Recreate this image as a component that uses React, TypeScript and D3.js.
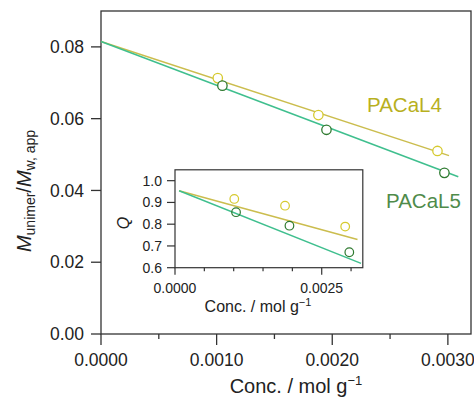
import React from "react";
import * as d3 from "d3";

// ---------- data ----------
const mainXTicks = [0, 0.001, 0.002, 0.003];
const mainXMinor = [0.0005, 0.0015, 0.0025];
const mainYTicks = [0, 0.02, 0.04, 0.06, 0.08];

const pacal4Points: [number, number][] = [
  [0.00101, 0.0713],
  [0.00188, 0.0610],
  [0.00291, 0.0510],
];
const pacal5Points: [number, number][] = [
  [0.00105, 0.0692],
  [0.00195, 0.0569],
  [0.00297, 0.0449],
];
const pacal4Line: [number, number][] = [
  [0, 0.0815],
  [0.00301, 0.0497],
];
const pacal5Line: [number, number][] = [
  [0, 0.0815],
  [0.00309, 0.0438],
];

const insetXTicks = [0, 0.0025];
const insetXMinor = [0.0005, 0.001, 0.0015, 0.002, 0.003];
const insetYTicks = [0.6, 0.7, 0.8, 0.9, 1.0];

const insetQ4Points: [number, number][] = [
  [0.00101, 0.916],
  [0.001875, 0.885],
  [0.0029, 0.789],
];
const insetQ5Points: [number, number][] = [
  [0.00104, 0.855],
  [0.00195, 0.793],
  [0.00297, 0.671],
];
const insetQ4Line: [number, number][] = [
  [0.00007, 0.954],
  [0.00311, 0.73],
];
const insetQ5Line: [number, number][] = [
  [0.00007, 0.954],
  [0.00317, 0.62],
];

// ---------- styles ----------
const FONT = "'Liberation Sans', Arial, sans-serif";
const AXIS = "#333";
const YEL_LINE = "#cbbd4e";
const YEL_PT = "#d6ca2e";
const YEL_TXT = "#b8b01e";
const GRN_LINE = "#3fbf8e";
const GRN_PT = "#2f7a30";
const GRN_TXT = "#4f8b4a";

export default function App() {
  // main scales
  const x = d3.scaleLinear().domain([0, 0.0032]).range([101, 471]);
  const y = d3.scaleLinear().domain([0, 0.09]).range([334, 11]);
  // inset scales
  const ix = d3.scaleLinear().domain([0, 0.0032]).range([175, 362.8]);
  const iy = d3.scaleLinear().domain([0.6, 1.05]).range([267.7, 169.8]);

  const line = d3.line<[number, number]>().x((d) => x(d[0])).y((d) => y(d[1]));
  const iline = d3.line<[number, number]>().x((d) => ix(d[0])).y((d) => iy(d[1]));

  const [x0, x1] = x.range();
  const [y0, y1] = y.range();
  const [ix0, ix1] = ix.range();
  const [iy0, iy1] = iy.range();

  return (
    <svg
      width={474}
      height={400}
      style={{ position: "absolute", left: 0, top: 0, background: "#fff" }}
      fontFamily={FONT}
    >
      <rect x={0} y={0} width={474} height={400} fill="#fff" />
      {/* main frame */}
      <rect x={x0} y={y1} width={x1 - x0} height={y0 - y1} fill="none" stroke={AXIS} strokeWidth={1.3} />

      {/* main y ticks */}
      {mainYTicks.map((t) => (
        <g key={"my" + t}>
          <line x1={x0 - 10} x2={x0} y1={y(t)} y2={y(t)} stroke={AXIS} strokeWidth={1.3} />
          <text x={84} y={y(t)} dy="0.35em" textAnchor="end" fontSize={17.5} fill="#222">
            {d3.format(".2f")(t)}
          </text>
        </g>
      ))}
      {/* main x ticks */}
      {mainXTicks.map((t) => (
        <g key={"mx" + t}>
          <line x1={x(t)} x2={x(t)} y1={y0} y2={y0 + 11} stroke={AXIS} strokeWidth={1.3} />
          <text x={x(t)} y={366} textAnchor="middle" fontSize={17.5} fill="#222">
            {d3.format(".4f")(t)}
          </text>
        </g>
      ))}
      {mainXMinor.map((t) => (
        <line key={"mxm" + t} x1={x(t)} x2={x(t)} y1={y0} y2={y0 + 5} stroke={AXIS} strokeWidth={1.3} />
      ))}

      {/* main axis titles */}
      <text x={296} y={393} textAnchor="middle" fontSize={20} fill="#222">
        Conc. / mol g<tspan dy={-8} fontSize={13}>−1</tspan>
      </text>
      <text
        transform="translate(31,191) rotate(-90)"
        textAnchor="middle"
        fontSize={20}
        fill="#222"
      >
        <tspan fontStyle="italic">M</tspan>
        <tspan fontSize={14} dy={4}>unimer</tspan>
        <tspan dy={-4}>/</tspan>
        <tspan fontStyle="italic">M</tspan>
        <tspan fontSize={14} dy={4}>w, app</tspan>
      </text>

      {/* main lines */}
      <path d={line(pacal4Line) || ""} fill="none" stroke={YEL_LINE} strokeWidth={1.5} />
      <path d={line(pacal5Line) || ""} fill="none" stroke={GRN_LINE} strokeWidth={1.5} />
      {pacal4Points.map((p, i) => (
        <circle key={"p4" + i} cx={x(p[0])} cy={y(p[1])} r={4.7} fill="#fff" stroke={YEL_PT} strokeWidth={1.3} />
      ))}
      {pacal5Points.map((p, i) => (
        <circle key={"p5" + i} cx={x(p[0])} cy={y(p[1])} r={4.7} fill="#fff" stroke={GRN_PT} strokeWidth={1.3} />
      ))}

      {/* series labels */}
      <text x={367} y={112} fontSize={20.5} fill={YEL_TXT}>PACaL4</text>
      <text x={386} y={208} fontSize={20.5} fill={GRN_TXT}>PACaL5</text>

      {/* inset */}
      <rect x={ix0} y={iy1} width={ix1 - ix0} height={iy0 - iy1} fill="#fff" stroke={AXIS} strokeWidth={1.2} />
      {insetYTicks.map((t) => (
        <g key={"iy" + t}>
          <line x1={ix0 - 8} x2={ix0} y1={iy(t)} y2={iy(t)} stroke={AXIS} strokeWidth={1.2} />
          <text x={162} y={iy(t)} dy="0.36em" textAnchor="end" fontSize={14} fill="#222">
            {d3.format(".1f")(t)}
          </text>
        </g>
      ))}
      {insetXTicks.map((t) => (
        <g key={"ix" + t}>
          <line x1={ix(t)} x2={ix(t)} y1={iy0} y2={iy0 + 7} stroke={AXIS} strokeWidth={1.2} />
          <text x={ix(t)} y={292.5} textAnchor="middle" fontSize={14} fill="#222">
            {d3.format(".4f")(t)}
          </text>
        </g>
      ))}
      {insetXMinor.map((t) => (
        <line key={"ixm" + t} x1={ix(t)} x2={ix(t)} y1={iy0} y2={iy0 + 3.5} stroke={AXIS} strokeWidth={1.2} />
      ))}
      <text x={258} y={312} textAnchor="middle" fontSize={16} fill="#222">
        Conc. / mol g<tspan dy={-6} fontSize={11}>−1</tspan>
      </text>
      <text transform="translate(129,223) rotate(-90)" textAnchor="middle" fontSize={16} fontStyle="italic" fill="#222">
        Q
      </text>

      <path d={iline(insetQ4Line) || ""} fill="none" stroke={YEL_LINE} strokeWidth={1.5} />
      <path d={iline(insetQ5Line) || ""} fill="none" stroke={GRN_LINE} strokeWidth={1.5} />
      {insetQ4Points.map((p, i) => (
        <circle key={"q4" + i} cx={ix(p[0])} cy={iy(p[1])} r={4.3} fill="none" stroke={YEL_PT} strokeWidth={1.2} />
      ))}
      {insetQ5Points.map((p, i) => (
        <circle key={"q5" + i} cx={ix(p[0])} cy={iy(p[1])} r={4.3} fill="none" stroke={GRN_PT} strokeWidth={1.2} />
      ))}
    </svg>
  );
}
